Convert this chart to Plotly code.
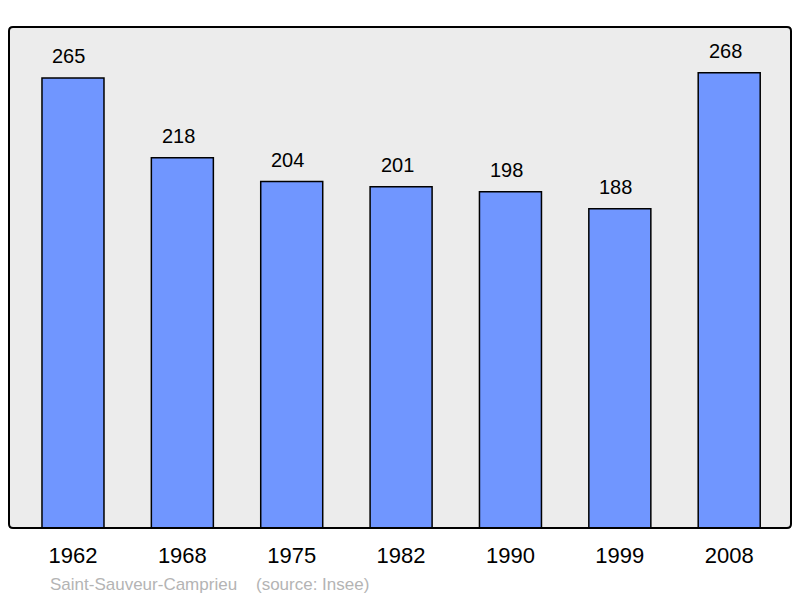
import plotly.graph_objects as go

years = ["1962", "1968", "1975", "1982", "1990", "1999", "2008"]
population = [265, 218, 204, 201, 198, 188, 268]
source_text = "Saint-Sauveur-Campriеu    (source: Insee)".replace("е", "e")

fig = go.Figure()
fig.add_trace(go.Bar(
    x=list(range(len(years))), y=population, width=0.567,
    marker=dict(color="#7096ff", line=dict(color="#000000", width=1.5)),
    hoverinfo="skip",
))

for i, v in enumerate(population):
    fig.add_annotation(x=i, y=v, text=str(v), showarrow=False, xref="x", yref="y",
                       yanchor="bottom", yshift=9, xshift=-4,
                       font=dict(family="Liberation Sans, Arial", size=20, color="#000000"))

fig.add_annotation(
    x=(48 - 9) / 782, y=-(584 - 528) / 501, xref="paper", yref="paper",
    text=source_text.replace("    ", "&nbsp;&nbsp;&nbsp;&nbsp;"), showarrow=False,
    xanchor="left", yanchor="middle",
    font=dict(family="Liberation Sans, Arial", size=17, color="#b4b4b4"))

fig.update_layout(
    width=800, height=598,
    margin=dict(l=9, r=9, t=27, b=70),
    paper_bgcolor="#ffffff", plot_bgcolor="#ececec",
    showlegend=False,
    xaxis=dict(range=[-0.585, 6.565], tickmode="array", tickvals=list(range(len(years))),
               ticktext=years, ticks="outside", ticklen=8, tickcolor="rgba(0,0,0,0)",
               showgrid=False, zeroline=False, showline=False,
               tickfont=dict(family="Liberation Sans, Arial", size=22, color="#000000")),
    yaxis=dict(range=[0, 295], showgrid=False, zeroline=False, showticklabels=False,
               showline=False),
)

rx, ry = 4 / 782, 4 / 501
path = (f"M {rx},0 L {1-rx},0 Q 1,0 1,{ry} L 1,{1-ry} Q 1,1 {1-rx},1 "
        f"L {rx},1 Q 0,1 0,{1-ry} L 0,{ry} Q 0,0 {rx},0 Z")
fig.add_shape(type="path", xref="paper", yref="paper",
              path=path, line=dict(color="#000000", width=2), layer="above")

fig.write_html("out.html", config={"displayModeBar": False},
               post_script="document.body.style.margin='0';document.body.style.padding='0';")
